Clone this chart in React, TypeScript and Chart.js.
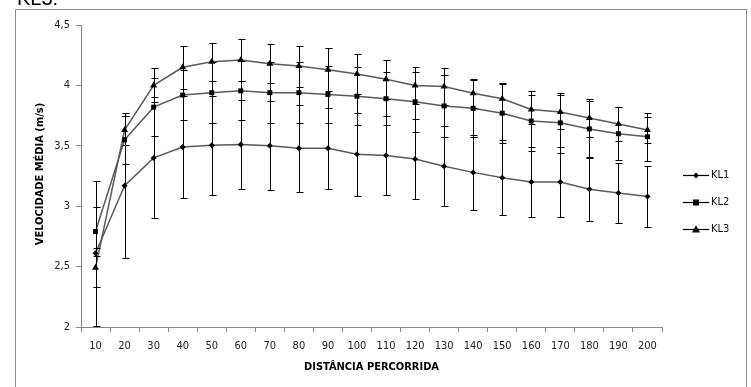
import React, { useEffect, useRef } from "react";
import { Chart, registerables } from "chart.js";

Chart.register(...registerables);

const categories = ["10", "20", "30", "40", "50", "60", "70", "80", "90", "100", "110", "120", "130", "140", "150", "160", "170", "180", "190", "200"];
const kl1 = [2.61, 3.17, 3.40, 3.49, 3.505, 3.51, 3.50, 3.48, 3.48, 3.43, 3.42, 3.39, 3.33, 3.28, 3.235, 3.20, 3.20, 3.14, 3.11, 3.08];
const kl1Err = [0.6, 0.6, 0.5, 0.42, 0.41, 0.37, 0.37, 0.36, 0.335, 0.345, 0.33, 0.33, 0.33, 0.31, 0.31, 0.29, 0.29, 0.26, 0.245, 0.25];
const kl2 = [2.79, 3.55, 3.82, 3.92, 3.94, 3.955, 3.94, 3.94, 3.925, 3.91, 3.89, 3.865, 3.83, 3.81, 3.77, 3.705, 3.69, 3.64, 3.60, 3.575];
const kl2Err = [0.2, 0.2, 0.24, 0.21, 0.25, 0.245, 0.25, 0.25, 0.235, 0.24, 0.22, 0.25, 0.26, 0.235, 0.245, 0.25, 0.25, 0.23, 0.22, 0.2];
const kl3 = [2.49, 3.63, 4.0, 4.15, 4.195, 4.21, 4.18, 4.16, 4.13, 4.095, 4.05, 4.0, 3.99, 3.935, 3.89, 3.80, 3.78, 3.73, 3.68, 3.63];
const kl3Err = [0.16, 0.12, 0.14, 0.18, 0.16, 0.17, 0.16, 0.17, 0.18, 0.165, 0.16, 0.155, 0.15, 0.12, 0.13, 0.12, 0.14, 0.155, 0.14, 0.11];
const seriesNames = ["KL1", "KL2", "KL3"];
const yTitle = "VELOCIDADE MÉDIA (m/s)";
const xTitle = "DISTÂNCIA PERCORRIDA";
const headerText = "KL3:";

const FONT = "'Liberation Sans Narrow', 'DejaVu Sans Condensed', 'Open Sans', sans-serif";
const LINE = "#5a5a5a";

const errors = [kl1Err, kl2Err, kl3Err];
const styles = ["rectRot", "rect", "triangle"];
const radii = [3, 3.5, 4];

const decorPlugin = {
  id: "decor",
  beforeDraw(chart: any) {
    const ctx = chart.ctx;
    ctx.save();
    ctx.fillStyle = "#ffffff";
    ctx.fillRect(0, 0, chart.width, chart.height);
    // outer frame
    ctx.strokeStyle = "#8c8c8c";
    ctx.lineWidth = 1;
    ctx.beginPath();
    ctx.moveTo(15.5, chart.height + 2);
    ctx.lineTo(15.5, 9.5);
    ctx.lineTo(746.5, 9.5);
    ctx.lineTo(746.5, chart.height + 2);
    ctx.stroke();
    // cropped header
    ctx.fillStyle = "#000";
    ctx.font = "20px 'Liberation Sans', Arial, sans-serif";
    ctx.textBaseline = "alphabetic";
    ctx.textAlign = "left";
    ctx.fillText(headerText, 17, 5);
    ctx.restore();
  },
  afterDatasetsDraw(chart: any) {
    const ctx = chart.ctx;
    const ys = chart.scales.y;
    ctx.save();
    ctx.strokeStyle = "#000";
    ctx.lineWidth = 1;
    chart.data.datasets.forEach((ds: any, di: number) => {
      const meta = chart.getDatasetMeta(di);
      ds.data.forEach((v: number, i: number) => {
        const e = errors[di][i];
        const x = Math.round(meta.data[i].x) + 0.5;
        const yt = Math.round(ys.getPixelForValue(v + e)) + 0.5;
        const yb = Math.round(ys.getPixelForValue(v - e)) + 0.5;
        ctx.beginPath();
        ctx.moveTo(x, yt);
        ctx.lineTo(x, yb);
        ctx.moveTo(x - 3, yt);
        ctx.lineTo(x + 4, yt);
        ctx.moveTo(x - 3, yb);
        ctx.lineTo(x + 4, yb);
        ctx.stroke();
      });
    });
    ctx.restore();
  },
  afterDraw(chart: any) {
    const ctx = chart.ctx;
    const area = chart.chartArea;
    ctx.save();
    ctx.fillStyle = "#000";
    ctx.font = `bold 11px ${FONT}`;
    ctx.textAlign = "center";
    ctx.textBaseline = "middle";
    ctx.fillText(xTitle, (area.left + area.right) / 2, 367);
    ctx.save();
    ctx.translate(40, (area.top + area.bottom) / 2 - 2);
    ctx.rotate(-Math.PI / 2);
    ctx.fillText(yTitle, 0, 0);
    ctx.restore();
    // legend
    const ly = [175, 202, 229];
    seriesNames.forEach((name, i) => {
      const y = ly[i] + 0.5;
      ctx.strokeStyle = "#000";
      ctx.lineWidth = 1.2;
      ctx.beginPath();
      ctx.moveTo(683, y);
      ctx.lineTo(709, y);
      ctx.stroke();
      ctx.fillStyle = "#000";
      const x = 696;
      const r = radii[i];
      ctx.beginPath();
      if (i === 0) {
        ctx.moveTo(x, y - r);
        ctx.lineTo(x + r, y);
        ctx.lineTo(x, y + r);
        ctx.lineTo(x - r, y);
      } else if (i === 1) {
        ctx.rect(x - 3, y - 3, 6, 6);
      } else {
        ctx.moveTo(x, y - 4);
        ctx.lineTo(x + 4, y + 3);
        ctx.lineTo(x - 4, y + 3);
      }
      ctx.closePath();
      ctx.fill();
      ctx.fillStyle = "#111";
      ctx.font = `11px ${FONT}`;
      ctx.textAlign = "left";
      ctx.fillText(name, 711, y);
    });
    ctx.restore();
  },
};

export default function App() {
  const ref = useRef<HTMLCanvasElement | null>(null);
  useEffect(() => {
    if (!ref.current) return;
    const datasets = [kl1, kl2, kl3].map((d, i) => ({
      label: seriesNames[i],
      data: d,
      borderColor: LINE,
      borderWidth: 1.5,
      backgroundColor: "#000",
      pointBackgroundColor: "#000",
      pointBorderColor: "#000",
      pointBorderWidth: 0,
      pointStyle: styles[i] as any,
      pointRadius: radii[i],
      tension: 0,
    }));
    const chart = new Chart(ref.current, {
      type: "line",
      data: { labels: categories, datasets },
      options: {
        animation: false,
        responsive: false,
        maintainAspectRatio: false,
        layout: { padding: { left: 0, right: 89, top: 25, bottom: 0 } },
        plugins: { legend: { display: false }, tooltip: { enabled: false } },
        scales: {
          x: {
            type: "category",
            offset: true,
            afterFit: (s: any) => { s.height = 60; },
            grid: { offset: true, drawOnChartArea: false, drawTicks: true, tickLength: 5, color: "#888" },
            border: { color: "#888", width: 1 },
            ticks: { color: "#222", font: { family: FONT, size: 11 }, padding: 8, maxRotation: 0, autoSkip: false },
          },
          y: {
            min: 2,
            max: 4.5,
            afterFit: (s: any) => { s.width = 81; },
            grid: { drawOnChartArea: false, drawTicks: true, tickLength: 5, color: "#888" },
            border: { color: "#888", width: 1 },
            ticks: {
              stepSize: 0.5,
              color: "#222",
              font: { family: FONT, size: 11 },
              padding: 6,
              callback: (v: any) => String(v).replace(".", ","),
            },
          },
        },
      },
      plugins: [decorPlugin],
    });
    return () => chart.destroy();
  }, []);
  return (
    <div style={{ position: "fixed", left: 0, top: 0, width: 751, height: 387, background: "#fff" }}>
      <canvas ref={ref} width={751} height={387} style={{ width: 751, height: 387, display: "block" }} />
    </div>
  );
}
